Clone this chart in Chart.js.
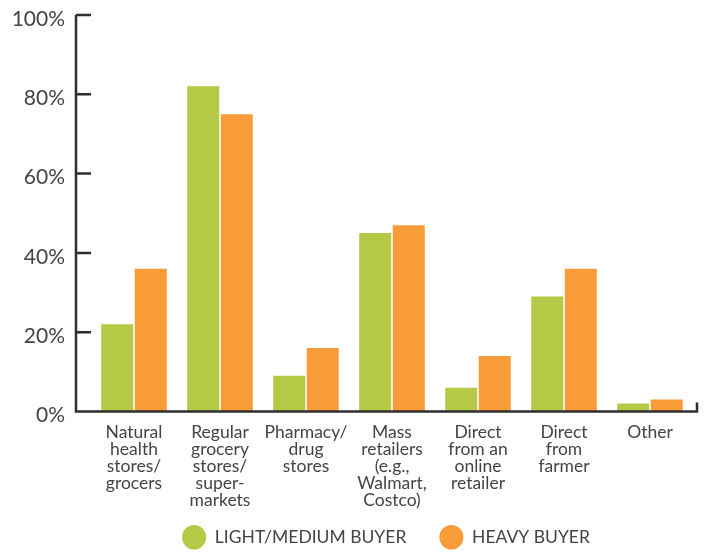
<!DOCTYPE html>
<html>
<head>
<meta charset="utf-8">
<script src="https://cdn.jsdelivr.net/npm/chart.js@4.4.1/dist/chart.umd.min.js"></script>
<style>
  html, body { margin: 0; padding: 0; background: #fff; }
  #wrap { width: 709px; height: 553px; }
</style>
</head>
<body>
<div id="wrap"><canvas id="storeChart"></canvas></div>
<script>
// where people buy, by buyer type (% of respondents)
const categories = [
    ['Natural', 'health', 'stores/', 'grocers'],
    ['Regular', 'grocery', 'stores/', 'super-', 'markets'],
    ['Pharmacy/', 'drug', 'stores'],
    ['Mass', 'retailers', '(e.g.,', 'Walmart,', 'Costco)'],
    ['Direct', 'from an', 'online', 'retailer'],
    ['Direct', 'from', 'farmer'],
    ['Other']
];
const lightMedium = [22, 82, 9, 45, 6, 29, 2];
const heavy = [36, 75, 16, 47, 14, 36, 3];
const yTicks = [0, 20, 40, 60, 80, 100];

const GREEN = '#b5c946';
const ORANGE = '#f89c3a';
const TEXT = '#444444';
const AXIS = '#2e2e2e';

// axis lines with inward ticks, drawn off the chart area like the original
const axisPlugin = {
    id: 'axisLines',
    afterLayout(chart) {
        // the 5-line category labels run into the legend band; don't clip them
        chart.scales.x.bottom = chart.height;
        // legend sits a little left of the plot centre in the original
        chart.legend.left -= 6;
        chart.legend.right -= 6;
    },
    afterDatasetsDraw(chart) {
        const { ctx, chartArea } = chart;
        const y = chart.scales.y;
        const axisX = chartArea.left - 15;
        const y0 = y.getPixelForValue(0);
        ctx.save();
        ctx.strokeStyle = AXIS;
        ctx.lineWidth = 2.5;
        ctx.beginPath();
        ctx.moveTo(axisX, y.getPixelForValue(100));
        ctx.lineTo(axisX, y0);
        ctx.lineTo(chartArea.right + 4, y0);
        ctx.lineTo(chartArea.right + 4, y0 - 9);
        yTicks.forEach(v => {
            const py = y.getPixelForValue(v);
            ctx.moveTo(axisX, py);
            ctx.lineTo(axisX + 15, py);
        });
        ctx.stroke();
        ctx.restore();
    }
};

new Chart(document.getElementById('storeChart'), {
    type: 'bar',
    data: {
        labels: categories,
        datasets: [
            { label: 'LIGHT/MEDIUM BUYER', data: lightMedium, backgroundColor: GREEN },
            { label: 'HEAVY BUYER', data: heavy, backgroundColor: ORANGE }
        ]
    },
    options: {
        responsive: true,
        maintainAspectRatio: false,
        animation: false,
        layout: { padding: { top: 15, right: 16, bottom: -3, left: 0 } },
        datasets: {
            bar: { categoryPercentage: 0.78, barPercentage: 0.955 }
        },
        scales: {
            y: {
                min: 0,
                max: 100,
                afterFit(scale) {
                    scale.width = 91;
                    scale.paddingTop = 0;
                    scale.paddingBottom = 0;
                },
                afterBuildTicks(scale) { scale.ticks = yTicks.map(v => ({ value: v })); },
                grid: { display: false, drawTicks: false },
                border: { display: false },
                ticks: {
                    padding: 26,
                    labelOffset: 4,
                    color: TEXT,
                    font: { family: 'Lato', size: 21 },
                    callback: v => v + '%'
                }
            },
            x: {
                afterFit(scale) { scale.height = 84; },
                grid: { display: false, drawTicks: false },
                border: { display: false },
                ticks: {
                    padding: 12,
                    maxRotation: 0,
                    autoSkip: false,
                    color: TEXT,
                    font: { family: 'Lato', size: 17.5, lineHeight: 0.97 }
                }
            }
        },
        plugins: {
            legend: {
                position: 'bottom',
                fullSize: false,
                maxHeight: 61,
                labels: {
                    usePointStyle: true,
                    pointStyle: 'circle',
                    pointStyleWidth: 24,
                    padding: 33,
                    color: TEXT,
                    font: { family: 'Lato', size: 17.5 }
                }
            },
            tooltip: { enabled: false }
        }
    },
    plugins: [axisPlugin]
});
</script>
</body>
</html>
